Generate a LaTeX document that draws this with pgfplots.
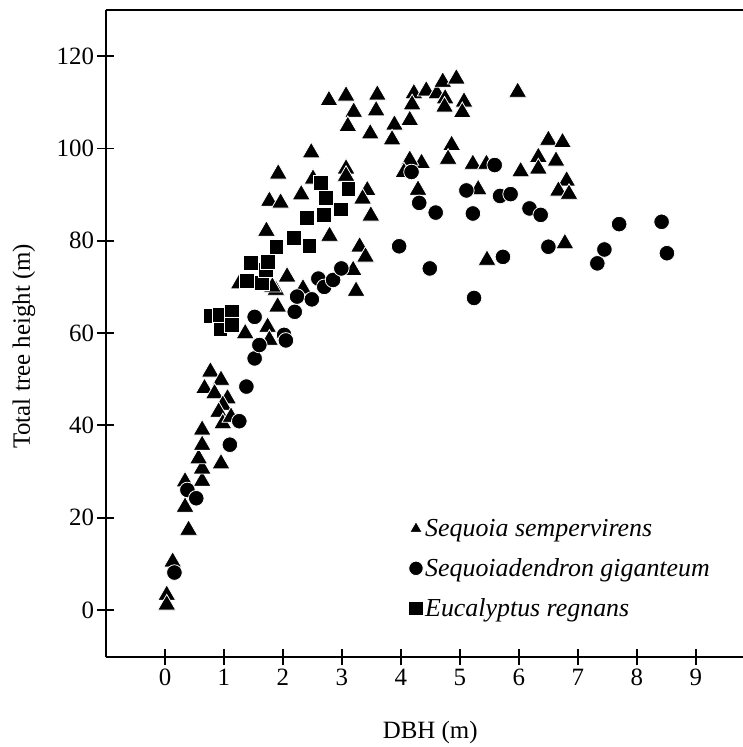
\documentclass[border=0pt]{standalone}
\usepackage{fontspec}
\setmainfont{Liberation Serif}
\usepackage{pgfplots}
\pgfplotsset{compat=1.18}
\begin{document}
\begin{tikzpicture}
\begin{axis}[
  at={(0,0)}, anchor=south west,
  width=637bp, height=647bp, scale only axis,
  xmin=-1, xmax=9.8, ymin=-10.2, ymax=130,
  axis x line=bottom, axis y line=left,
  axis line style={-, line width=2.6bp},
  xtick={0,...,9}, ytick={0,20,...,120},
  tick align=center, major tick length=17bp,
  tick style={line width=1.8bp, black},
  font=\fontsize{25}{30}\selectfont,
  /pgf/number format/assume math mode=true,
  xlabel={DBH (m)}, ylabel={Total tree height (m)},
  xlabel style={at={(axis description cs:0.509,-0.1252)}, anchor=base},
  ylabel style={at={(axis description cs:-0.1287,0.48)}, anchor=center},
  legend style={draw=none, fill=none, inner sep=0pt, at={(axis description cs:0.475,0.216)}, anchor=north west, row sep=16.5bp, font=\fontsize{26}{30}\selectfont\itshape, nodes={inner sep=2bp}},
  legend cell align=left,
  legend image code/.code={\draw[#1, mark size=7.2bp] plot coordinates {(0bp,0bp)};},
  clip=false,
]
\addplot[only marks, mark=triangle*, mark size=10.4bp, mark options={fill=black, draw=white, line width=0.8bp}] coordinates {
(0.03,3.2)(0.03,1.1)(0.13,10.4)(0.40,17.3)(0.34,22.3)(0.34,27.8)(0.63,27.9)(0.63,30.6)(0.57,32.8)(0.63,35.7)(0.63,39.0)(0.95,31.7)
(0.77,51.6)(0.67,48.0)(0.95,49.8)(0.84,46.9)(1.06,45.8)(0.98,44.4)(0.91,42.9)(0.98,40.4)(1.12,41.8)
(1.36,59.9)(1.74,61.3)(1.91,65.7)(1.88,69.3)(1.82,70.0)(2.07,72.2)(2.34,69.6)(1.26,70.7)(1.77,58.5)
(1.72,82.1)(1.77,88.6)(1.96,88.2)(1.92,94.5)(2.31,90.0)(2.48,99.1)(2.51,93.4)(2.79,81.0)
(3.07,95.6)(3.07,94.0)(3.43,90.9)(3.35,89.1)(3.49,85.4)(3.30,78.7)(3.40,76.5)(3.24,69.1)(3.19,73.6)
(2.78,110.4)(3.07,111.4)(3.20,107.9)(3.10,104.8)(3.48,103.2)(3.60,111.6)(3.58,108.2)(3.89,105.1)(3.85,101.9)
(4.15,106.1)(4.22,111.9)(4.19,109.5)(4.43,112.5)(4.61,111.9)(4.71,114.4)(4.94,115.1)(4.75,110.8)(4.74,109.0)(5.07,110.1)(5.04,107.8)
(4.86,100.7)(4.80,97.7)(4.35,96.8)(4.15,97.5)(4.05,94.8)(4.29,91.0)(5.22,96.6)(5.45,96.6)(5.31,91.1)
(5.98,112.2)(6.03,95.0)(6.33,98.1)(6.33,95.6)(6.50,101.8)(6.74,101.3)(6.63,97.3)(6.81,93.0)(6.67,90.8)(6.85,90.1)(6.78,79.4)(5.46,75.8)
};
\addlegendentry{Sequoia sempervirens}
\addplot[only marks, mark=*, mark size=7.8bp, mark options={fill=black, draw=white, line width=0.8bp}] coordinates {
(0.16,8.1)(0.38,26.0)(0.53,24.2)(1.10,35.8)(1.26,40.9)(1.38,48.4)(1.52,54.5)(1.60,57.4)(1.52,63.5)(2.02,59.6)(2.05,58.4)
(2.20,64.6)(2.24,67.9)(2.49,67.3)(2.60,71.8)(2.70,70.0)(2.85,71.5)(2.99,74.0)(3.97,78.8)(4.18,94.9)(4.31,88.2)(4.59,86.1)
(4.49,74.0)(5.11,90.9)(5.22,85.9)(5.24,67.6)(5.59,96.4)(5.68,89.7)(5.86,90.1)(5.73,76.5)(6.18,87.0)(6.37,85.6)(6.50,78.7)
(7.33,75.1)(7.45,78.1)(7.70,83.6)(8.42,84.1)(8.51,77.3)
};
\addlegendentry{Sequoiadendron giganteum}
\addplot[only marks, mark=square*, mark size=7.4bp, mark options={fill=black, draw=white, line width=0.8bp}] coordinates {
(0.77,63.7)(0.93,64.0)(1.13,64.6)(0.94,60.8)(1.13,61.7)(1.39,71.3)(1.64,70.8)(1.71,73.6)(1.46,75.2)(1.75,75.4)
(1.89,78.7)(2.18,80.7)(2.45,78.9)(2.40,84.9)(2.69,85.6)(2.98,86.8)(2.73,89.2)(2.65,92.5)(3.11,91.3)
};
\addlegendentry{Eucalyptus regnans}
\draw[line width=2.6bp] (rel axis cs:0,1) -- (rel axis cs:1,1);
\end{axis}
\pgfresetboundingbox
\path (-106bp,-90bp) rectangle (637bp,657bp);
\end{tikzpicture}
\end{document}
